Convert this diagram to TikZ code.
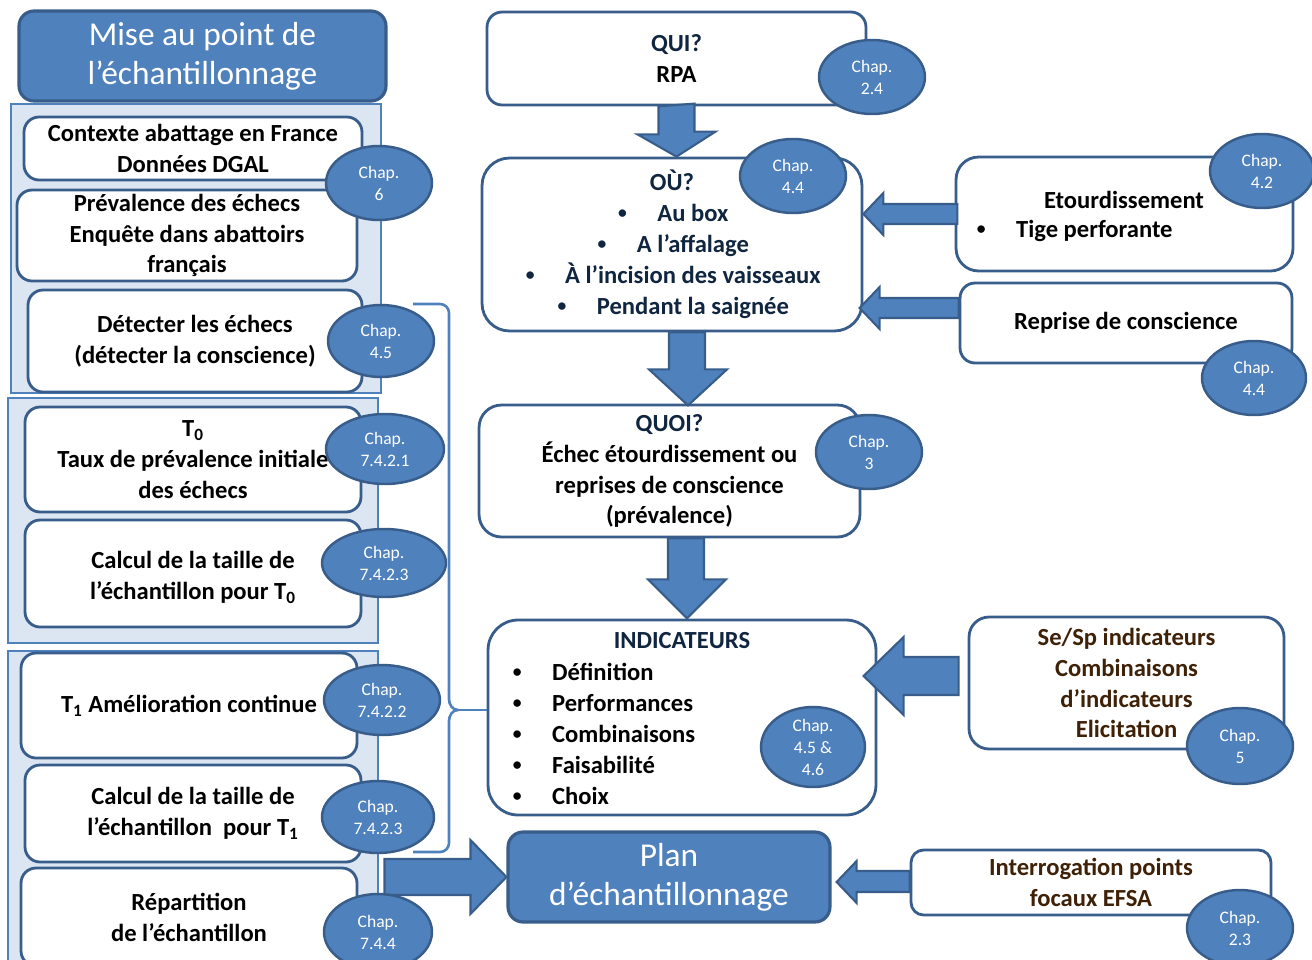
\documentclass[tikz,border=0pt]{standalone}
\usepackage{fontspec}
\setmainfont{Carlito}
\usetikzlibrary{shapes.geometric}

\definecolor{ofblue}{HTML}{4F81BD}
\definecolor{ofline}{HTML}{385D8A}
\definecolor{ofpanel}{HTML}{DCE6F2}
\definecolor{ofnavy}{HTML}{10253F}
\definecolor{ofbrown}{HTML}{3F2108}

\newcommand{\itm}[1]{\makebox[1.7em][l]{\hspace{0.1em}\raisebox{0.12em}{\fontsize{10}{10}\selectfont\textbullet}}#1}

\tikzset{
  panel/.style={draw=ofblue, line width=1.6pt, fill=ofpanel, inner sep=0pt},
  whitebox/.style={draw=ofline, line width=1.6pt, fill=white, rounded corners=0.3cm, align=center, inner sep=0pt, font=\fontsize{14}{17.6}\selectfont\bfseries},
  bluebox/.style={draw=ofline, line width=1.8pt, fill=ofblue, rounded corners=0.3cm, align=center, inner sep=0pt, text=white, font=\fontsize{19}{22}\selectfont},
  boxtext/.style={inner sep=0pt, align=left, font=\fontsize{14}{17.6}\selectfont\bfseries},
  chapoval/.style={ellipse, draw=ofline, line width=1.4pt, fill=ofblue, text=white, align=center, inner sep=0pt, font=\fontsize{10}{12.5}\selectfont},
  fatarrow/.style={draw=ofline, line width=1.2pt, fill=ofblue, line join=miter},
  bracket/.style={draw=ofblue, line width=1.5pt}
}

\begin{document}
\begin{tikzpicture}[x=0.02cm, y=-0.02cm]
      \useasboundingbox (0,0) rectangle (1312,960);

      % left column
      \node[bluebox, minimum width=7.34cm, minimum height=1.8cm] (title) at (202.5,56) {Mise au point de\\l’échantillonnage};
      \node[panel, minimum width=7.4cm, minimum height=5.78cm] (panelA) at (196,248.5) {};
      \node[panel, minimum width=7.4cm, minimum height=4.9cm] (panelB) at (193,520.5) {};
      \node[panel, minimum width=7.4cm, minimum height=6.6cm] (panelC) at (193,816) {};

      \node[whitebox, minimum width=6.76cm, minimum height=1.26cm] (contexte) at (193,148.5) {Contexte abattage en France\\Données DGAL};
      \node[whitebox, minimum width=6.8cm, minimum height=1.82cm] (prevalence) at (187,235.5) {Prévalence des échecs\\Enquête dans abattoirs\\français};
      \node[whitebox, minimum width=6.68cm, minimum height=2.04cm] (detecter) at (195,341) {Détecter les échecs\\(détecter la conscience)};
      \node[whitebox, minimum width=6.72cm, minimum height=2.1cm] (tzero) at (193,459.5) {T\textsubscript{0}\\Taux de prévalence initiale\\des échecs};
      \node[whitebox, minimum width=6.72cm, minimum height=2.14cm, text height=1.13cm] (calczero) at (193,573.5) {Calcul de la taille de\\l’échantillon pour T\textsubscript{0}};
      \node[whitebox, minimum width=6.72cm, minimum height=2.1cm] (tone) at (189,705.5) {T\textsubscript{1} Amélioration continue};
      \node[whitebox, minimum width=6.72cm, minimum height=1.94cm] (calcone) at (193,813.5) {Calcul de la taille de\\l’échantillon\ \ pour T\textsubscript{1}};
      \node[whitebox, minimum width=6.72cm, minimum height=1.96cm] (repartition) at (189,917) {Répartition\\de l’échantillon};

      % middle column
      \node[whitebox, minimum width=7.58cm, minimum height=1.86cm] (qui) at (676.5,58.5) {\textcolor{ofnavy}{QUI?}\\RPA};
      \node[whitebox, rounded corners=0.55cm, minimum width=7.6cm, minimum height=3.46cm, text=ofnavy] (ou) at (672,244.5) {OÙ?\\\itm{Au box}\\\itm{A l’affalage}\\\itm{À l’incision des vaisseaux}\\\itm{Pendant la saignée}};
      \node[whitebox, rounded corners=0.45cm, minimum width=7.62cm, minimum height=2.64cm] (quoi) at (669.5,471) {\textcolor{ofnavy}{QUOI?}\\Échec étourdissement ou\\reprises de conscience\\(prévalence)};
      \node[whitebox, rounded corners=0.6cm, minimum width=7.76cm, minimum height=3.9cm] (indic) at (682,717.5) {};
      \node[boxtext, text=ofnavy] (indichead) at (682,641) {INDICATEURS};
      \node[boxtext, anchor=west] (indiclist) at (510,734) {\itm{Définition}\\\itm{Performances}\\\itm{Combinaisons}\\\itm{Faisabilité}\\\itm{Choix}};
      \node[bluebox, minimum width=6.44cm, minimum height=1.8cm] (plan) at (669,877) {Plan\\d’échantillonnage};

      % right column
      \node[whitebox, rounded corners=0.45cm, minimum width=6.74cm, minimum height=2.28cm] (etour) at (1124.5,214) {};
      \node[boxtext] (etourhead) at (1124,200) {Etourdissement};
      \node[boxtext, anchor=west] (etourlist) at (974,231) {\itm{Tige perforante}};
      \node[whitebox, minimum width=6.64cm, minimum height=1.6cm] (reprise) at (1126,323) {Reprise de conscience};
      \node[whitebox, rounded corners=0.4cm, minimum width=6.3cm, minimum height=2.64cm, text=ofbrown] (sesp) at (1126.5,683) {Se/Sp indicateurs\\Combinaisons\\d’indicateurs\\Elicitation};
      \node[whitebox, rounded corners=0.25cm, minimum width=7.2cm, minimum height=1.3cm, text=ofbrown] (interro) at (1091,882.5) {Interrogation points\\focaux EFSA};

      % block arrows
      \draw[fatarrow] (qui.south) ++(-18,0) -- ++(0,28) -- ++(-21,0) -- (qui.south |- ou.north) -- ++(39,-25) -- ++(-21,0) -- ++(0,-28) -- cycle;
      \draw[fatarrow] (ou.south) ++(-3,0) -- ++(0,37) -- ++(-20,0) -- ++(39,36) -- ++(39,-36) -- ++(-22,0) -- ++(0,-37) -- cycle;
      \draw[fatarrow] (quoi.south) ++(-1.5,0) -- ++(0,41) -- ++(-20,0) -- ++(39,39) -- ++(39,-39) -- ++(-22,0) -- ++(0,-41) -- cycle;
      \draw[fatarrow] (plan.west) -- ++(-36,-37) -- ++(0,19) -- ++(-86,0) -- ++(0,36) -- ++(86,0) -- ++(0,19) -- cycle;
      \draw[fatarrow] (ou.east |- etour.west) -- ++(20,-21) -- ++(0,11) -- ++(74,0) -- ++(0,20) -- ++(-74,0) -- ++(0,11) -- cycle;
      \draw[fatarrow] (reprise.west) ++(0,-5) -- ++(-79,0) -- ++(0,11) -- ++(-20,-21) -- ++(20,-21) -- ++(0,11) -- ++(79,0) -- cycle;
      \draw[fatarrow] (sesp.west) ++(-9,12) -- ++(-55,0) -- ++(0,20) -- ++(-40,-39) -- ++(40,-39) -- ++(0,20) -- ++(55,0) -- cycle;
      \draw[fatarrow] (interro.west) ++(0,9.5) -- ++(-53,0) -- ++(0,11) -- ++(-20,-21) -- ++(20,-21) -- ++(0,10) -- ++(53,0) -- cycle;

      % bracket to the indicators
      \coordinate (bracetip) at (458,710);
      \draw[bracket] (413,304) -- (440,304) to[out=0, in=90] (449,313) -- (449,699) to[out=-90, in=180] (bracetip) to[out=180, in=90] (449,721) -- (449,843) to[out=-90, in=0] (440,852) -- (413,852);
      \draw[bracket] (bracetip) -- (bracetip -| indic.west);

      % chapter ovals
      \node[chapoval, minimum width=2.12cm, minimum height=1.48cm] (chapsix) at (379,183) {Chap.\\6};
      \node[chapoval, minimum width=2.12cm, minimum height=1.44cm] (chapfourfive) at (381,341) {Chap.\\4.5};
      \node[chapoval, minimum width=2.36cm, minimum height=1.4cm] (chapsevenA) at (385,449) {Chap.\\7.4.2.1};
      \node[chapoval, minimum width=2.48cm, minimum height=1.36cm] (chapsevenB) at (384,563) {Chap.\\7.4.2.3};
      \node[chapoval, minimum width=2.32cm, minimum height=1.4cm] (chapsevenC) at (382,700) {Chap.\\7.4.2.2};
      \node[chapoval, minimum width=2.24cm, minimum height=1.44cm] (chapsevenD) at (378,817) {Chap.\\7.4.2.3};
      \node[chapoval, minimum width=2.16cm, minimum height=1.52cm] (chapsevenE) at (378,932) {Chap.\\7.4.4};
      \node[chapoval, minimum width=2.12cm, minimum height=1.48cm] (chaptwofour) at (872,77) {Chap.\\2.4};
      \node[chapoval, minimum width=2.12cm, minimum height=1.48cm] (chapfourfourA) at (793,176) {Chap.\\4.4};
      \node[chapoval, minimum width=2.12cm, minimum height=1.48cm] (chapthree) at (869,452) {Chap.\\3};
      \node[chapoval, minimum width=2.08cm, minimum height=1.6cm] (chapindic) at (813,747) {Chap.\\4.5 \&\\4.6};
      \node[chapoval, minimum width=2.08cm, minimum height=1.48cm] (chapfourtwo) at (1262,171) {Chap.\\4.2};
      \node[chapoval, minimum width=2.08cm, minimum height=1.48cm] (chapfourfourB) at (1254,378) {Chap.\\4.4};
      \node[chapoval, minimum width=2.12cm, minimum height=1.52cm] (chapfive) at (1240,746) {Chap.\\5};
      \node[chapoval, minimum width=2.12cm, minimum height=1.52cm] (chaptwothree) at (1240,928) {Chap.\\2.3};
    \end{tikzpicture}
\end{document}
